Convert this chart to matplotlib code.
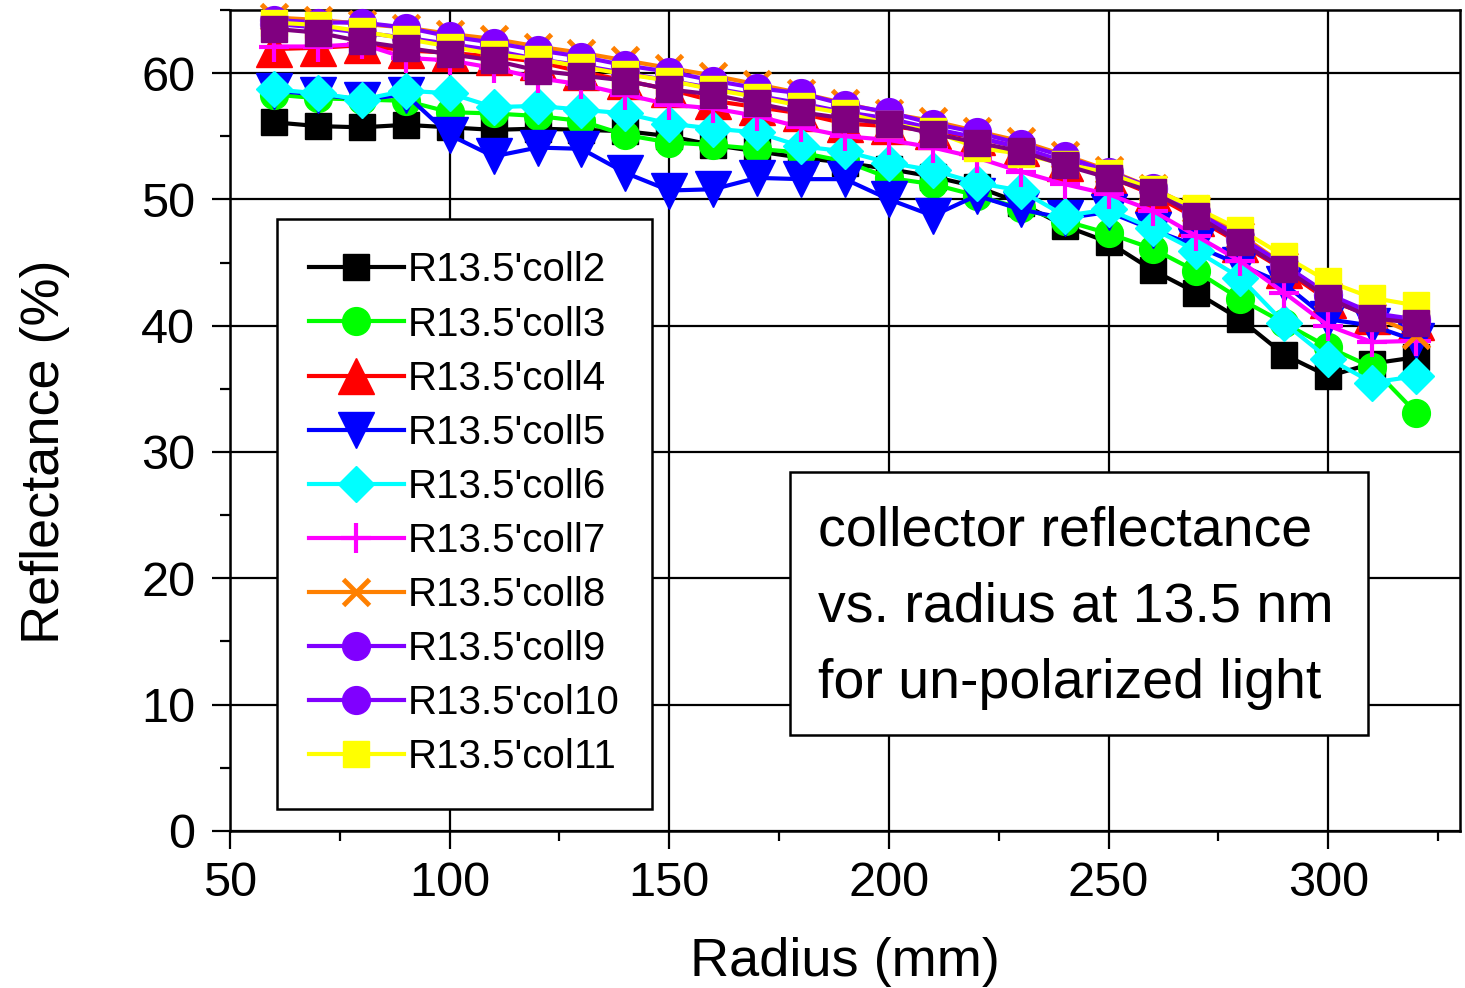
import matplotlib
matplotlib.use("Agg")
import matplotlib.pyplot as plt
from matplotlib.patches import Rectangle
from matplotlib.ticker import MultipleLocator

plt.rcParams["font.family"] = ["Liberation Sans", "DejaVu Sans"]

# -----------------------------------------------------------------------------
# data (radius in mm, reflectance in %)
# -----------------------------------------------------------------------------
radius = [60, 70, 80, 90, 100, 110, 120, 130, 140, 150, 160, 170, 180, 190,
          200, 210, 220, 230, 240, 250, 260, 270, 280, 290, 300, 310, 320]

coll2 = [56.1, 55.8, 55.7, 55.9, 55.7, 55.5, 55.6, 55.5, 55.4, 55.0, 54.3, 53.8, 53.3, 52.9,
         52.4, 51.8, 51.0, 49.7, 47.9, 46.6, 44.4, 42.6, 40.5, 37.7, 36.0, 37.0, 37.5]
coll3 = [58.3, 58.0, 57.9, 57.8, 56.9, 56.8, 56.6, 56.2, 55.1, 54.5, 54.3, 54.0, 53.7, 53.0,
         51.7, 51.2, 50.3, 49.3, 48.3, 47.3, 46.1, 44.3, 42.1, 40.2, 38.3, 36.7, 33.1]
coll4 = [61.9, 62.0, 62.2, 61.8, 61.6, 61.3, 60.9, 60.1, 59.4, 58.7, 57.8, 57.3, 56.8, 56.0,
         55.8, 55.4, 54.9, 54.1, 52.9, 51.8, 50.4, 48.5, 46.5, 44.4, 42.0, 40.8, 40.3]
coll5 = [58.6, 58.3, 57.9, 58.3, 55.1, 53.4, 54.1, 54.0, 52.1, 50.7, 50.8, 51.7, 51.6, 51.6,
         50.0, 48.7, 50.3, 49.2, 48.5, 49.0, 47.6, 46.3, 44.8, 43.3, 40.5, 40.0, 38.8]
coll6 = [58.7, 58.4, 57.9, 58.6, 58.4, 57.3, 57.4, 57.1, 56.8, 56.0, 55.6, 55.3, 54.2, 53.8,
         52.9, 52.3, 51.3, 50.7, 48.7, 49.2, 47.7, 45.9, 43.8, 40.2, 37.4, 35.5, 36.0]
coll7 = [62.1, 62.1, 62.3, 61.2, 61.0, 60.4, 59.6, 59.1, 58.3, 57.5, 57.2, 56.6, 55.7, 55.0,
         54.7, 54.1, 53.3, 52.2, 51.2, 50.4, 49.1, 47.1, 45.1, 42.6, 40.0, 38.7, 38.8]
coll8 = [64.4, 64.2, 63.9, 63.6, 63.1, 62.7, 62.1, 61.6, 61.0, 60.4, 59.8, 59.1, 58.4, 57.6,
         56.8, 56.2, 55.4, 54.6, 53.5, 52.3, 50.9, 49.2, 47.2, 44.8, 42.4, 40.8, 39.3]
coll9 = [64.2, 64.0, 64.0, 63.6, 62.9, 62.4, 61.8, 61.3, 60.6, 60.1, 59.4, 58.8, 58.4, 57.5,
         56.9, 56.0, 55.3, 54.4, 53.4, 52.2, 50.9, 49.0, 47.0, 44.8, 42.5, 41.0, 40.5]
col10 = [63.9, 63.6, 63.2, 62.8, 62.3, 61.8, 61.1, 60.6, 60.0, 59.4, 58.8, 58.2, 57.6, 56.9,
         56.4, 55.6, 54.9, 54.1, 53.0, 52.0, 50.8, 48.9, 46.9, 44.7, 42.4, 40.9, 40.4]
col11 = [64.0, 63.8, 63.3, 62.7, 62.1, 61.5, 61.1, 60.5, 59.9, 59.4, 58.7, 58.1, 57.4, 56.8,
         56.0, 55.4, 54.1, 53.6, 52.8, 52.1, 50.8, 49.3, 47.6, 45.5, 43.5, 42.2, 41.6]
# dark purple squares drawn on top, not listed in the legend
coll_mean = [63.5, 63.2, 62.5, 62.0, 61.5, 61.0, 60.2, 59.8, 59.4, 58.7, 58.3, 57.6, 56.9, 56.4,
             56.0, 55.2, 54.5, 53.8, 52.7, 51.7, 50.6, 48.7, 46.6, 44.5, 42.2, 40.6, 40.2]

series_labels = ["R13.5'coll2", "R13.5'coll3", "R13.5'coll4", "R13.5'coll5", "R13.5'coll6",
                 "R13.5'coll7", "R13.5'coll8", "R13.5'coll9", "R13.5'col10", "R13.5'col11"]

# (colour, marker, markersize, marker edge width)
styles = [
    ("#000000", "s", 19, 1),
    ("#00FF00", "o", 20, 1),
    ("#FF0000", "^", 26, 1),
    ("#0000FF", "v", 26, 1),
    ("#00FFFF", "D", 18, 1),
    ("#FF00FF", "+", 21, 3),
    ("#FF8000", "x", 19, 3.5),
    ("#8000FF", "o", 20, 1),
    ("#8000FF", "o", 20, 1),
    ("#FFFF00", "s", 19, 1),
]


def plot_reflectance() -> None:
    fig = plt.figure(figsize=(14.65, 9.88), dpi=100)
    ax = fig.add_axes([0.157, 0.159, 0.8396, 0.831])

    all_series = [coll2, coll3, coll4, coll5, coll6, coll7, coll8, coll9, col10, col11]
    for values, label, (color, marker, ms, mew) in zip(all_series, series_labels, styles):
        ax.plot(radius, values, color=color, lw=3, marker=marker, markersize=ms,
                markeredgewidth=mew, markeredgecolor=color, markerfacecolor=color,
                label=label, clip_on=False, zorder=3)
    ax.plot(radius, coll_mean, color="#800080", lw=3, marker="s", markersize=19,
            markeredgecolor="#800080", markerfacecolor="#800080",
            label="_nolegend_", clip_on=False, zorder=3)

    ax.set_xlim(50, 330)
    ax.set_ylim(0, 65)
    ax.xaxis.set_major_locator(MultipleLocator(50))
    ax.xaxis.set_minor_locator(MultipleLocator(25))
    ax.yaxis.set_major_locator(MultipleLocator(10))
    ax.yaxis.set_minor_locator(MultipleLocator(5))

    ax.grid(True, which="major", color="black", lw=1.6)
    ax.set_axisbelow(True)
    for side in ax.spines.values():
        side.set_linewidth(1.8)

    ax.tick_params(which="major", direction="out", length=13, width=1.6,
                   labelsize=35, right=False, top=False)
    ax.tick_params(which="minor", direction="out", length=7, width=1.6,
                   right=False, top=False)
    ax.tick_params(axis="y", which="major", pad=12)
    ax.tick_params(axis="x", which="major", pad=9)

    ax.set_xlabel("Radius (mm)", fontsize=39, labelpad=22)
    ax.set_ylabel("Reflectance (%)", fontsize=39)
    ax.yaxis.set_label_coords(-0.13, 0.4616)

    leg = ax.legend(loc="upper left", bbox_to_anchor=(0.038, 0.745), fontsize=29,
                    frameon=True, fancybox=False, framealpha=1, edgecolor="black",
                    handlelength=2.35, handletextpad=0.1, labelspacing=0.40,
                    borderpad=0.8, borderaxespad=0)
    leg.get_frame().set_linewidth(1.8)

    # annotation box
    ax.add_patch(Rectangle((0.455, 0.117), 0.47, 0.32, transform=ax.transAxes,
                           facecolor="white", edgecolor="black", lw=1.8, zorder=4))
    ax.text(0.478, 0.2716,
            "collector reflectance\nvs. radius at 13.5 nm\nfor un-polarized light",
            transform=ax.transAxes, ha="left", va="center", fontsize=40,
            linespacing=1.6, zorder=5)

    fig.savefig("out.png", dpi=100)


if __name__ == "__main__":
    plot_reflectance()
